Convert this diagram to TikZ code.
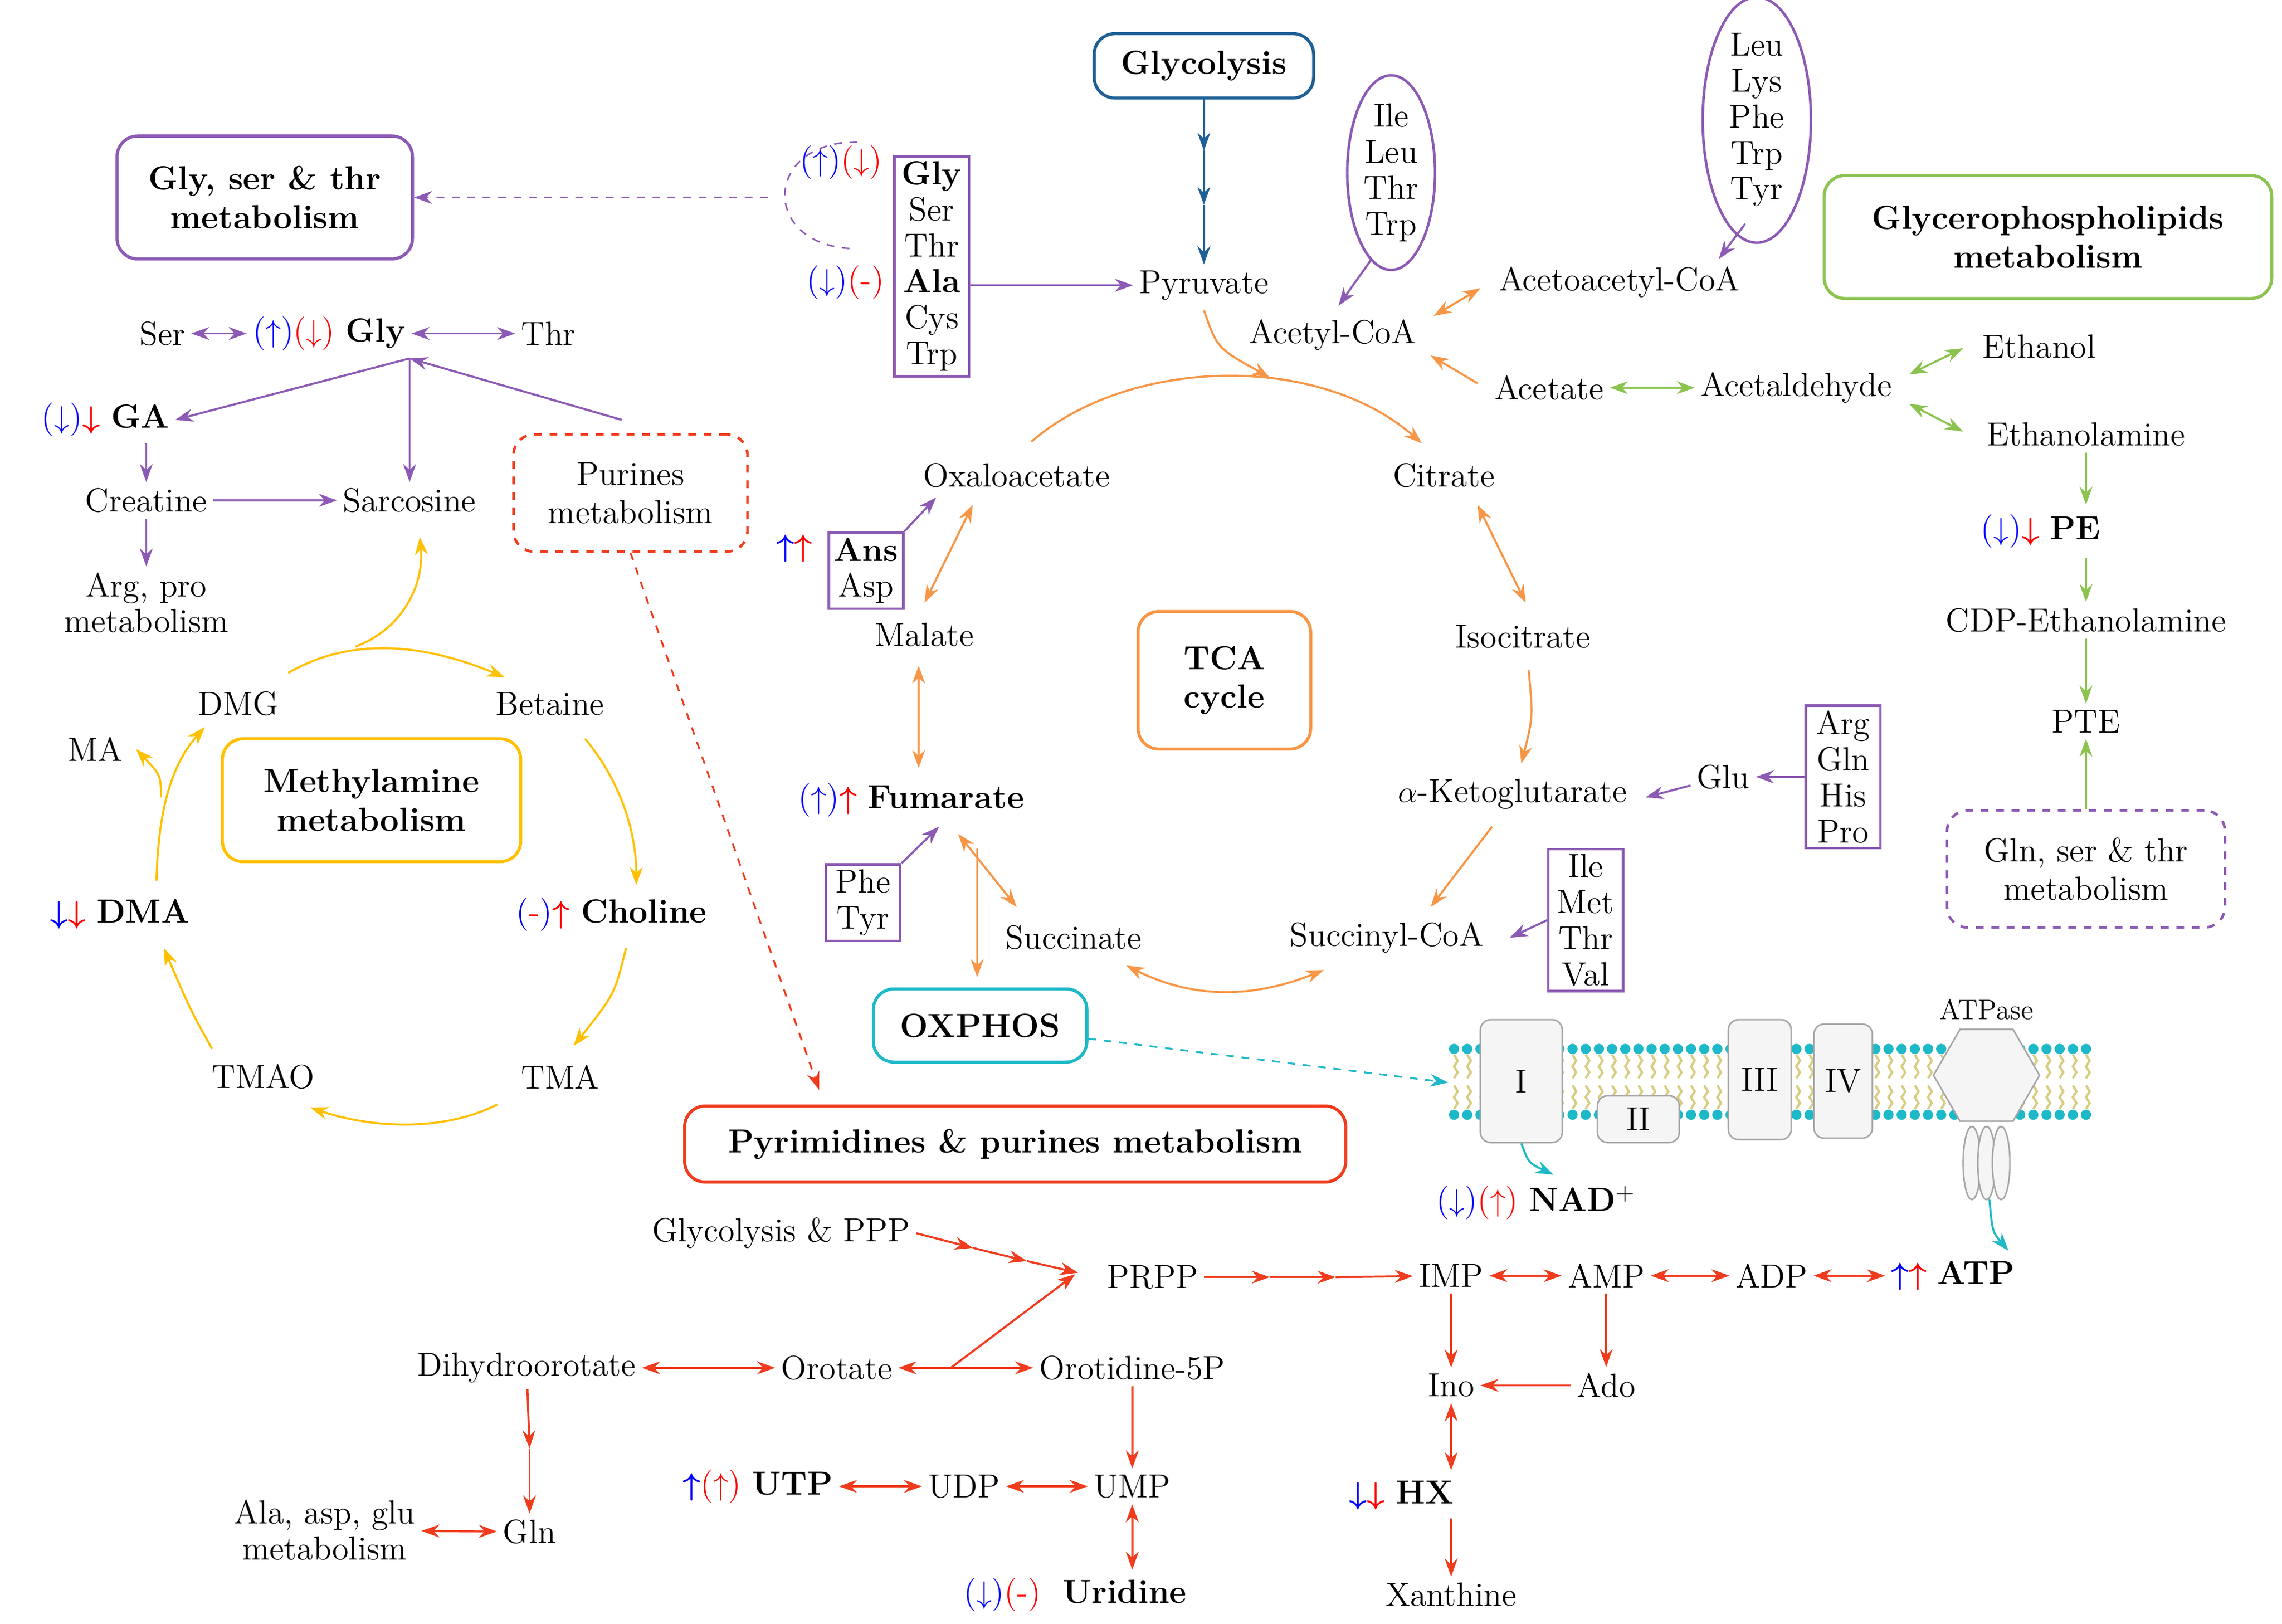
\documentclass[tikz,border=0pt]{standalone}
\usepackage{amsmath,amssymb}
\usetikzlibrary{shapes.geometric,arrows.meta}
\definecolor{cpu}{RGB}{140,90,180}
\definecolor{cor}{RGB}{247,150,70}
\definecolor{cye}{RGB}{255,192,0}
\definecolor{crd}{RGB}{240,60,30}
\definecolor{cgr}{RGB}{140,195,80}
\definecolor{cbl}{RGB}{30,95,150}
\definecolor{ctl}{RGB}{30,185,200}
\definecolor{ckh}{RGB}{215,205,130}
\newcommand\mub{{\color{blue}$\uparrow$}}
\newcommand\mur{{\color{red}$\uparrow$}}
\newcommand\mdb{{\color{blue}$\downarrow$}}
\newcommand\mdr{{\color{red}$\downarrow$}}
\newcommand\Mub{{\color{blue}$\boldsymbol{\uparrow}$}}
\newcommand\Mur{{\color{red}$\boldsymbol{\uparrow}$}}
\newcommand\Mdb{{\color{blue}$\boldsymbol{\downarrow}$}}
\newcommand\Mdr{{\color{red}$\boldsymbol{\downarrow}$}}
\newcommand\pb[1]{{\color{blue}(}#1{\color{blue})}}
\newcommand\pr[1]{{\color{red}(}#1{\color{red})}}
\newcommand\dashr{{\color{red}-}}
\begin{document}
\begin{tikzpicture}[x=0.02cm,y=-0.02cm,
  every node/.style={font=\fontsize{13}{15}\selectfont,inner sep=2pt},
  >={Stealth[length=7pt,width=5pt]},
  line width=0.8pt,
  pu/.style={draw=cpu},or/.style={draw=cor},ye/.style={draw=cye},
  rd/.style={draw=crd},gr/.style={draw=cgr},bl/.style={draw=cbl},tl/.style={draw=ctl},
  rbox/.style={draw,rounded corners=8pt,line width=1.2pt,align=center,font=\fontsize{13}{15}\selectfont\bfseries},
  sbox/.style={draw=cpu,line width=1pt,align=center,inner sep=2pt,text width=25pt,font=\fontsize{13}{14}\selectfont},
  cx/.style={draw=gray!70,fill=gray!8,rounded corners=4pt,line width=0.6pt}]
\useasboundingbox (0,0) rectangle (1560,1110);
% ---------- glycolysis ----------
\node[rbox,draw=cbl,minimum width=3cm,minimum height=0.88cm] (glyc) at (823,45) {Glycolysis};
\node (pyr) at (823,195) {Pyruvate};
\coordinate (g1) at (823,103); \coordinate (g2) at (823,140);
\draw[bl,->] (glyc) -- (g1); \draw[bl,->] (g1) -- (g2); \draw[bl,->] (g2) -- (pyr);
% ---------- amino box ----------
\node[rbox,draw=cpu,minimum width=4.04cm,minimum height=1.68cm] (gst) at (181,135) {Gly, ser \& thr\\metabolism};
\node[sbox] (aa) at (637,182) {\textbf{Gly}\\Ser\\Thr\\\textbf{Ala}\\Cys\\Trp};
\node (aa1) at (575,111) {\pb{\mub}\pr{\mdr}};
\node (aa2) at (578,193) {\pb{\mdb}\pr{\dashr}};
\draw[pu,dashed,line width=0.6pt] (586,97) .. controls (520,97) and (520,170) .. (586,170);
\coordinate (br) at (525,135);
\draw[pu,dashed,line width=0.6pt,->] (br) -- (gst);
\draw[pu,->] (aa.east |- pyr) -- (pyr);
% ellipses
\node[draw=cpu,ellipse,line width=1pt,align=center,inner sep=0pt,minimum width=1.2cm,minimum height=2.6cm,font=\fontsize{13}{14}\selectfont] (el1) at (951,118) {Ile\\Leu\\Thr\\Trp};
\node[draw=cpu,ellipse,line width=1pt,align=center,inner sep=0pt,minimum width=1.48cm,minimum height=3.04cm,font=\fontsize{13}{14}\selectfont] (el2) at (1201,82) {Leu\\Lys\\Phe\\Trp\\Tyr};
\node (acoa) at (911,229) {Acetyl-CoA};
\node (aacoa) at (1107,193) {Acetoacetyl-CoA};
\node (acet) at (1059,265) {Acetate};
\node (acald) at (1228,265) {Acetaldehyde};
\node (etoh) at (1394,237) {Ethanol};
\node (etam) at (1426,297) {Ethanolamine};
\coordinate (e1b) at (937,178); \draw[pu,->] (e1b) -- (915,209);
\coordinate (e2b) at (1193,153); \draw[pu,->] (e2b) -- (1175,177);
\draw[or,<->] (980,216) -- (1012,197);
\draw[or,->] (1010,262) -- (978,243);
\draw[gr,<->] (acet) -- (acald);
\draw[gr,<->] (1305,256) -- (1342,238);
\draw[gr,<->] (1305,276) -- (1342,295);
\node[rbox,draw=cgr,minimum width=6.12cm,minimum height=1.68cm] (gpl) at (1400,162) {Glycerophospholipids\\metabolism};
\node (pe) at (1395,363) {\pb{\mdb}\Mdr\ \textbf{PE}};
\node (cdp) at (1426,424) {CDP-Ethanolamine};
\node (pte) at (1426,493) {PTE};
\node[draw=cpu,dashed,rounded corners=8pt,line width=1pt,align=center,minimum width=3.8cm,minimum height=1.6cm] (gln2) at (1426,594) {Gln, ser \& thr\\metabolism};
\draw[gr,->] (etam) -- (1426,345);
\draw[gr,->] (1426,381) -- (cdp);
\draw[gr,->] (cdp) -- (pte);
\draw[gr,->] (gln2) -- (pte);
% ---------- TCA ----------
\node (oaa) at (695,325) {Oxaloacetate};
\node (cit) at (987,325) {Citrate};
\node (icit) at (1041,435) {Isocitrate};
\node (akg) at (1034,543) {$\alpha$-Ketoglutarate};
\node (scoa) at (948,641) {Succinyl-CoA};
\node (succ) at (734,641) {Succinate};
\node (fum) at (623,547) {\pb{\mub}\Mur\ \textbf{Fumarate}};
\node (mal) at (632,434) {Malate};
\node[rbox,draw=cor,minimum width=2.36cm,minimum height=1.88cm] (tca) at (837,465) {TCA\\cycle};
\draw[or,->] (823,212) .. controls (832,238) .. (868,258);
\draw[or,->] (705,302) .. controls (770,245) and (900,240) .. (972,303);
\draw[or,<->] (1010,345) -- (1043,412);
\draw[or,->] (1045,458) .. controls (1048,490) .. (1040,522);
\draw[or,->] (1020,565) -- (978,620);
\draw[or,<->] (905,663) .. controls (850,685) and (810,680) .. (770,660);
\draw[or,<->] (695,620) -- (655,570);
\draw[or,->] (668,580) -- (668,668);
\draw[or,<->] (628,525) -- (628,455);
\draw[or,<->] (632,412) -- (665,345);
\node[sbox] (ans) at (592,390) {\textbf{Ans}\\Asp};
\node (ansm) at (543,375) {\Mub\Mur};
\draw[pu,->] (ans.north east) -- (640,340);
\node[sbox] (phe) at (590,617) {Phe\\Tyr};
\draw[pu,->] (phe.north east) -- (642,565);
\node (glu) at (1178,531) {Glu};
\node[sbox] (agh) at (1260,531) {Arg\\Gln\\His\\Pro};
\draw[pu,->] (agh) -- (glu);
\draw[pu,->] (glu) -- (1125,545);
\node[sbox] (imtv) at (1084,629) {Ile\\Met\\Thr\\Val};
\draw[pu,->] (imtv.west) -- (1032,641);
% ---------- OXPHOS ----------
\node[rbox,draw=ctl,minimum width=2.92cm,minimum height=1cm] (ox) at (670,701) {OXPHOS};
\foreach \x in {994,1003,...,1428} {
  \draw[ckh,line width=0.9pt] (\x,721) -- ++(2.5,4) -- ++(-2.5,4) -- ++(2.5,4) -- ++(-2.5,4);
  \draw[ckh,line width=0.9pt] (\x,742) -- ++(2.5,4) -- ++(-2.5,4) -- ++(2.5,4) -- ++(-2.5,4);
  \fill[ctl] (\x,717) circle (3.5);
  \fill[ctl] (\x,762) circle (3.5);
}
\node[cx,minimum width=1.12cm,minimum height=1.68cm] (c1) at (1040,739) {I};
\node[cx,minimum width=1.12cm,minimum height=0.64cm] (c2) at (1120,765) {II};
\node[cx,minimum width=0.86cm,minimum height=1.64cm] (c3) at (1203,738) {III};
\node[cx,minimum width=0.8cm,minimum height=1.56cm] (c4) at (1260,739) {IV};
\foreach \dx in {-10,0,10} \draw[gray!70,fill=gray!8,line width=0.6pt] (1358+\dx,795) ellipse (6 and 25);
\node[draw=gray!70,fill=gray!8,regular polygon,regular polygon sides=6,minimum size=1.45cm,inner sep=0pt,line width=0.6pt] (atpase) at (1358,735) {};
\node[font=\fontsize{11}{13}\selectfont] at (1358,690) {ATPase};
\draw[tl,dashed,->,line width=0.7pt] (ox) -- (990,740);
\node (nad) at (1050,822) {\pb{\mdb}\pr{\mur}\ \textbf{NAD$^{+}$}};
\draw[tl,->] (c1.south) .. controls (1045,795) .. (1062,803);
\coordinate (atpb) at (1360,820);
% ---------- pyrimidines ----------
\node[rbox,draw=crd,minimum width=9.04cm,minimum height=1.04cm] (pyrbox) at (694,782) {Pyrimidines \& purines metabolism};
\node[draw=crd,dashed,rounded corners=8pt,line width=1pt,align=center,minimum width=3.2cm,minimum height=1.6cm] (pur) at (431,337) {Purines\\metabolism};
\draw[rd,dashed,->,line width=0.7pt] (pur.south) -- (560,745);
\node (gppp) at (534,843) {Glycolysis \& PPP};
\node (prpp) at (788,873) {PRPP};
\coordinate (q1) at (665,853); \coordinate (q2) at (702,862);
\draw[rd,->] (gppp.east) -- (q1); \draw[rd,->] (q1) -- (q2); \draw[rd,->] (q2) -- (737,870);
\node (imp) at (992,872) {IMP};
\node (amp) at (1098,872) {AMP};
\node (adp) at (1211,872) {ADP};
\node (atp) at (1335,872) {\Mub\Mur\ \textbf{ATP}};
\draw[tl,->] (atpb) .. controls (1362,842) .. (1373,855);
\coordinate (r1) at (868,873); \coordinate (r2) at (913,873);
\draw[rd,->] (prpp) -- (r1); \draw[rd,->] (r1) -- (r2); \draw[rd,->] (r2) -- (imp);
\draw[rd,<->] (imp) -- (amp);
\draw[rd,<->] (amp) -- (adp);
\draw[rd,<->] (adp) -- (atp);
\node (ino) at (992,947) {Ino};
\node (ado) at (1098,947) {Ado};
\node (hx) at (958,1022) {\Mdb\Mdr\ \textbf{HX}};
\node (xan) at (992,1090) {Xanthine};
\draw[rd,->] (imp) -- (ino);
\draw[rd,->] (amp) -- (ado);
\draw[rd,->] (ado) -- (ino);
\draw[rd,<->] (ino) -- (992,1005);
\draw[rd,->] (992,1038) -- (xan);
\node (dhor) at (360,935) {Dihydroorotate};
\node (oro) at (572,935) {Orotate};
\node (o5p) at (774,935) {Orotidine-5P};
\draw[rd,<->] (dhor) -- (oro);
\draw[rd,<->] (oro) -- (o5p);
\draw[rd,->] (650,935) -- (735,871);
\node (gln) at (362,1047) {Gln};
\node[align=center,font=\fontsize{13}{14}\selectfont] (aag) at (222,1046) {Ala, asp, glu\\metabolism};
\coordinate (s1) at (362,990);
\draw[rd,->] (dhor) -- (s1); \draw[rd,->] (s1) -- (gln);
\draw[rd,<->] (aag) -- (gln);
\node (ump) at (774,1016) {UMP};
\node (udp) at (659,1016) {UDP};
\node (utp) at (518,1016) {\Mub\pr{\mur}\ \textbf{UTP}};
\node (uri) at (735,1090) {\pb{\mdb}\pr{\dashr}\ \ \textbf{Uridine}};
\draw[rd,->] (o5p) -- (ump);
\draw[rd,<->] (utp) -- (udp);
\draw[rd,<->] (udp) -- (ump);
\draw[rd,<->] (ump) -- (774,1073);
% ---------- left ----------
\node (ser) at (111,228) {Ser};
\node (gly) at (225,228) {\pb{\mub}\pr{\mdr}\ \textbf{Gly}};
\node (thr) at (375,228) {Thr};
\draw[pu,<->] (ser) -- (gly);
\draw[pu,<->] (gly) -- (thr);
\coordinate (gb) at (280,245);
\node (ga) at (72,287) {\pb{\mdb}\Mdr\ \textbf{GA}};
\node (crea) at (100,342) {Creatine};
\node (sarc) at (280,342) {Sarcosine};
\node[align=center,font=\fontsize{13}{14}\selectfont] (argp) at (100,412) {Arg, pro\\metabolism};
\draw[pu,->] (gb) -- (ga.east);
\draw[pu,->] (gb) -- (sarc);
\draw[pu,->] (425,287) -- (gb);
\draw[pu,->] (100,303) -- (crea);
\draw[pu,->] (crea) -- (sarc);
\draw[pu,->] (crea) -- (argp);
\node[rbox,draw=cye,minimum width=4.08cm,minimum height=1.68cm] (mam) at (254,547) {Methylamine\\metabolism};
\node (dmg) at (163,481) {DMG};
\node (bet) at (376,481) {Betaine};
\node (chol) at (418,625) {\pb{\dashr}\Mur\ \textbf{Choline}};
\node (tma) at (383,736) {TMA};
\node (tmao) at (180,736) {TMAO};
\node (dma) at (82,625) {\Mdb\Mdr\ \textbf{DMA}};
\node (ma) at (65,512) {MA};
\draw[ye,->] (197,460) .. controls (240,435) and (290,440) .. (345,463);
\draw[ye,->] (243,442) .. controls (275,430) and (290,400) .. (287,367);
\draw[ye,->] (400,505) .. controls (425,535) and (435,570) .. (435,605);
\draw[ye,->] (428,648) .. controls (420,680) .. (392,715);
\draw[ye,->] (340,755) .. controls (300,775) and (250,770) .. (212,757);
\draw[ye,->] (145,717) .. controls (130,690) .. (112,648);
\draw[ye,->] (107,602) .. controls (108,560) and (115,525) .. (140,497);
\draw[ye,->] (110,545) .. controls (110,530) .. (93,512);
\end{tikzpicture}
\end{document}
